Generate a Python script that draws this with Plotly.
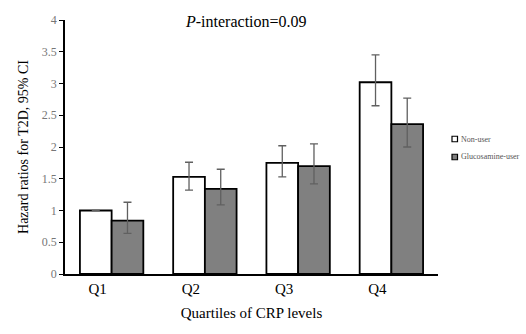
import plotly.graph_objects as go

categories = ["Q1", "Q2", "Q3", "Q4"]
non_user = [1.00, 1.53, 1.75, 3.02]
non_user_lo = [1.00, 1.32, 1.53, 2.65]
non_user_hi = [1.00, 1.76, 2.02, 3.45]
gluc_user = [0.84, 1.34, 1.70, 2.36]
gluc_lo = [0.64, 1.09, 1.42, 2.00]
gluc_hi = [1.13, 1.65, 2.05, 2.77]
series_names = ["Non-user", "Glucosamine-user"]
series_colors = ["white", "#808080"]

font = "'Liberation Serif', 'Times New Roman', serif"

def err(v, lo, hi):
    return dict(type="data", symmetric=False,
                array=[h - x for x, h in zip(v, hi)],
                arrayminus=[x - l for x, l in zip(v, lo)],
                color="#606060", thickness=1.3, width=4)

fig = go.Figure()
fig.add_trace(go.Bar(x=categories, y=non_user, name=series_names[0],
                     marker=dict(color=series_colors[0], line=dict(color="black", width=1.8)),
                     error_y=err(non_user, non_user_lo, non_user_hi)))
fig.add_trace(go.Bar(x=categories, y=gluc_user, name=series_names[1],
                     marker=dict(color=series_colors[1], line=dict(color="black", width=1.8)),
                     error_y=err(gluc_user, gluc_lo, gluc_hi)))

# plot area: x 65..438, y 20..274 (px)
L, R, T, B = 65, 438, 20, 274
W, H = R - L, B - T

def px_x(x):
    return (x - L) / W

def px_y(y):
    return (B - y) / H

shapes = []
annotations = [dict(text="<i>P</i>-interaction=0.09", x=px_x(246), y=px_y(22),
                    xref="paper", yref="paper", xanchor="center", yanchor="middle",
                    showarrow=False, font=dict(size=16, family=font, color="black"))]
for i, (name, col) in enumerate(zip(series_names, series_colors)):
    yc = [139, 157][i]
    shapes.append(dict(type="rect", xref="paper", yref="paper",
                       x0=px_x(452), x1=px_x(457.5), y0=px_y(yc + 2.75), y1=px_y(yc - 2.75),
                       fillcolor=col, line=dict(color="black", width=1.2)))
    annotations.append(dict(text=name, x=px_x(459), y=px_y(yc), xref="paper", yref="paper",
                            xanchor="left", yanchor="middle", showarrow=False,
                            font=dict(size=8, family=font, color="#555555")))

fig.update_layout(
    width=526, height=334,
    margin=dict(l=L, r=526 - R, t=T, b=334 - B, autoexpand=False),
    paper_bgcolor="white", plot_bgcolor="white",
    barmode="group", bargap=0.32, bargroupgap=0,
    font=dict(family=font, color="black"),
    showlegend=False,
    hovermode=False,
    shapes=shapes,
    annotations=annotations,
)
fig.update_xaxes(showline=True, linecolor="black", linewidth=1.8, ticks="",
                 tickfont=dict(size=15, color="black"), ticklabelshift=-14,
                 title=dict(text="Quartiles of CRP levels", font=dict(size=15), standoff=12))
fig.update_yaxes(range=[0, 4], dtick=0.5, showgrid=False, zeroline=False,
                 showline=True, linecolor="black", linewidth=1.8,
                 ticks="outside", ticklen=4, tickcolor="black",
                 tickfont=dict(size=12, color="#777777"),
                 title=dict(text="Hazard ratios for T2D, 95% CI", font=dict(size=14), standoff=10))

fig.write_html("out.html", config={"displayModeBar": False},
               post_script="document.body.style.margin='0px';document.body.style.overflow='hidden';")
